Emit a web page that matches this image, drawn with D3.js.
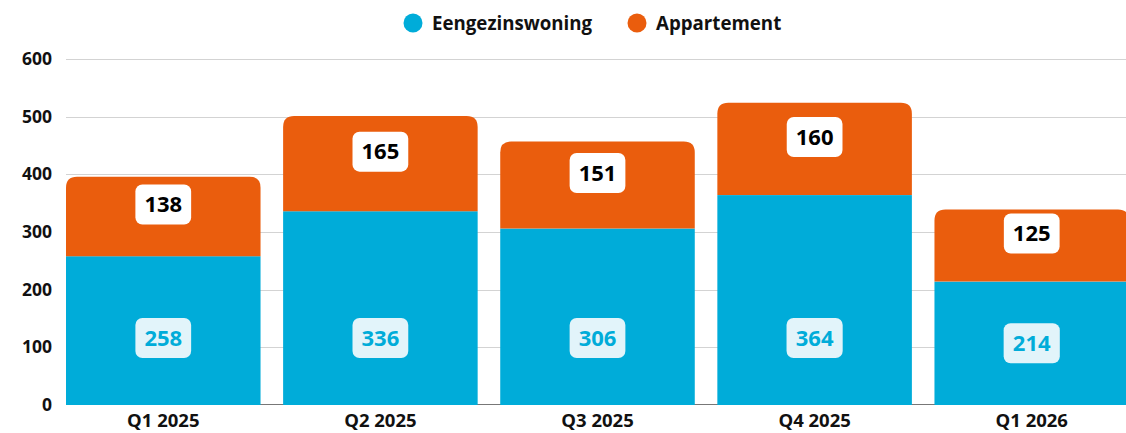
<!DOCTYPE html>
<html>
<head>
<meta charset="utf-8">
<script src="https://cdn.jsdelivr.net/npm/d3@7"></script>
<style>
  body { margin: 0; background: #fff; }
  text { font-family: "Open Sans", sans-serif; font-weight: 700; }
</style>
</head>
<body>
<div id="chart"></div>
<script>
// Data
var quarters = ["Q1 2025", "Q2 2025", "Q3 2025", "Q4 2025", "Q1 2026"]
var eengezins = [258, 336, 306, 364, 214]
var appartement = [138, 165, 151, 160, 125]
var seriesNames = ["Eengezinswoning", "Appartement"]
var yTicks = [0, 100, 200, 300, 400, 500, 600]

var color1 = "#00acd9"
var color2 = "#ea5d0d"

var width = 1126, height = 433

var svg = d3.select("#chart")
.append("svg")
.attr("width", width)
.attr("height", height)

// Scales
var x = d3.scaleBand()
.domain(quarters)
.range([66, 1129])
.paddingInner(0.104)
.paddingOuter(0)

var y = d3.scaleLinear()
.domain([0, 600])
.range([405, 59])

// Gridlines
svg.append("g")
.selectAll("line")
.data(yTicks.filter(d => d > 0))
.enter()
.append("line")
.attr("x1", 66)
.attr("x2", width)
.attr("y1", d => Math.round(y(d)) + 0.5)
.attr("y2", d => Math.round(y(d)) + 0.5)
.style("stroke", "#d3d3d3")
.style("stroke-width", 1)

// baseline
svg.append("line")
.attr("x1", 66)
.attr("x2", width)
.attr("y1", Math.round(y(0)) - 0.5)
.attr("y2", Math.round(y(0)) - 0.5)
.style("stroke", "#777")
.style("stroke-width", 1)

// Y axis labels
var yAxis = svg.append("g")
.attr("transform", "translate(52,0)")
.call(d3.axisLeft(y).tickValues(yTicks).tickSize(0).tickPadding(0))
yAxis.select(".domain").remove()
yAxis.selectAll("text")
.style("font-size", "17.5px")
.style("font-family", "'Open Sans', sans-serif")
.style("font-weight", 700)
.attr("fill", "#111")

// X axis labels
var xAxis = svg.append("g")
.attr("transform", "translate(0," + y(0) + ")")
.call(d3.axisBottom(x).tickSize(0).tickPadding(9))
xAxis.select(".domain").remove()
xAxis.selectAll("text")
.style("font-size", "18.5px")
.style("font-family", "'Open Sans', sans-serif")
.style("font-weight", 700)
.attr("fill", "#111")

// rows for bars
var rows = quarters.map((q, i) => ({q: q, a: eengezins[i], b: appartement[i]}))

// bottom segment
svg.append("g")
.selectAll("rect")
.data(rows)
.enter()
.append("rect")
.attr("x", d => x(d.q))
.attr("y", d => y(d.a))
.attr("width", x.bandwidth())
.attr("height", d => y(0) - y(d.a))
.style("fill", color1)

// top segment with rounded top corners
function topPath(x0, w, y0, y1, r) {
  return "M" + x0 + "," + y1 +
    "V" + (y0 + r) +
    "Q" + x0 + "," + y0 + " " + (x0 + r) + "," + y0 +
    "H" + (x0 + w - r) +
    "Q" + (x0 + w) + "," + y0 + " " + (x0 + w) + "," + (y0 + r) +
    "V" + y1 + "Z"
}

svg.append("g")
.selectAll("path")
.data(rows)
.enter()
.append("path")
.attr("d", d => topPath(x(d.q), x.bandwidth(), y(d.a + d.b), y(d.a), 11))
.style("fill", color2)

// value labels
function addLabel(cx, cy, txt, boxFill, textFill) {
  var g = svg.append("g")
  var rect = g.append("rect")
  var t = g.append("text")
  .attr("x", cx)
  .attr("y", cy)
  .attr("dy", "0.35em")
  .attr("text-anchor", "middle")
  .style("font-size", "22px")
  .attr("fill", textFill)
  .text(txt)
  var bb = t.node().getBBox()
  var w = bb.width + 18
  rect.attr("x", cx - w / 2)
  .attr("y", cy - 20)
  .attr("width", w)
  .attr("height", 40)
  .attr("rx", 7)
  .style("fill", boxFill)
}

rows.forEach(function(d) {
  var cx = x(d.q) + x.bandwidth() / 2
  // orange label sits a bit above the middle of its segment
  var topMid = (y(d.a + d.b) + y(d.a)) / 2 - 12
  addLabel(cx, topMid, d.b, "#fff", "#000")
  // blue label in the lower part of the bar
  var botMid = Math.max((y(d.a) + y(0)) / 2, y(0) - 67)
  addLabel(cx, botMid, d.a, "#e2f4fa", color1)
})

// Legend
var legend = svg.append("g")
var legendX = [413, 637]
seriesNames.forEach(function(name, i) {
  legend.append("circle")
  .attr("cx", legendX[i])
  .attr("cy", 23)
  .attr("r", 9.5)
  .style("fill", i == 0 ? color1 : color2)
  legend.append("text")
  .attr("x", legendX[i] + 19)
  .attr("y", 29.5)
  .style("font-size", "18.7px")
  .attr("fill", "#111")
  .text(name)
})
</script>
</body>
</html>
